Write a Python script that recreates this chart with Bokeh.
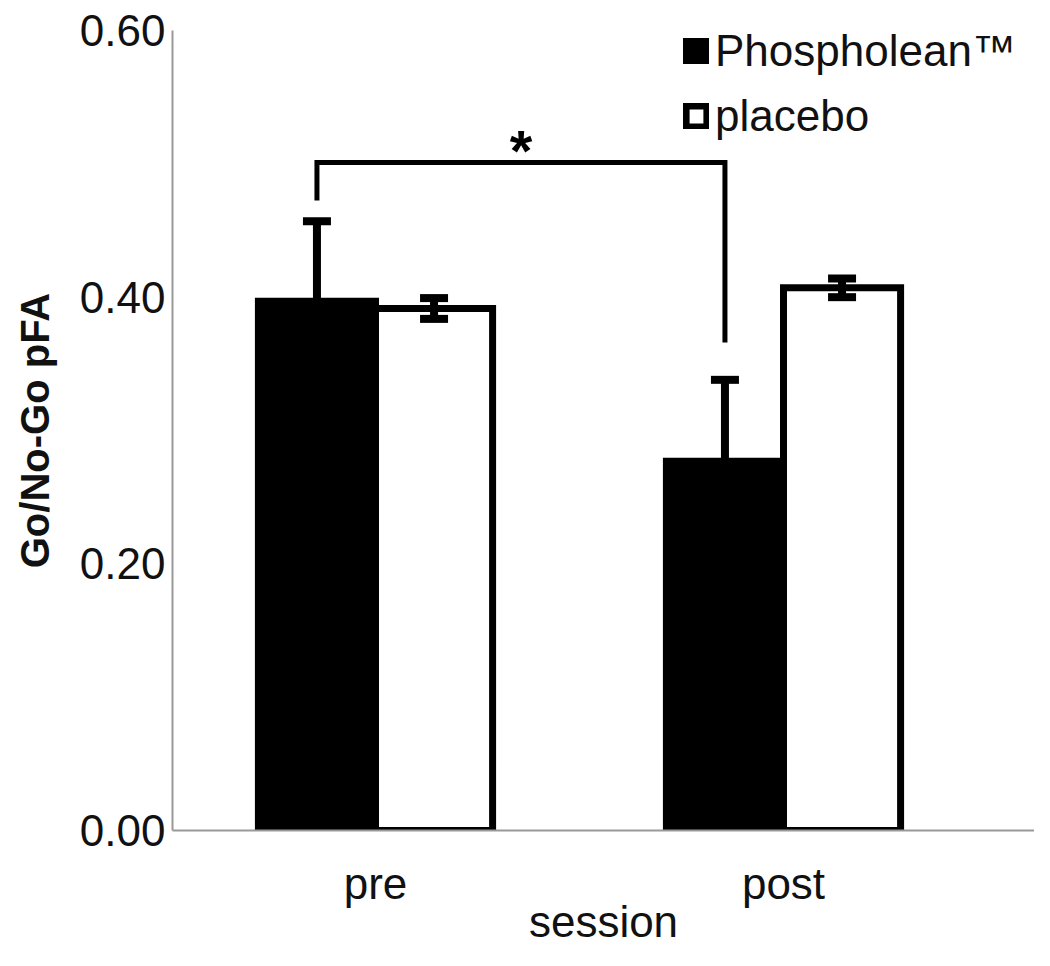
from bokeh.plotting import figure
from bokeh.models import (Range1d, FixedTicker, NumeralTickFormatter, ColumnDataSource,
                          Whisker, TeeHead, Legend, LegendItem)
from bokeh.core.properties import value
from bokeh.embed import file_html
from bokeh.resources import INLINE

# ---- data ----
sessions = ["pre", "post"]
phospholean_mean = [0.397, 0.277]
phospholean_err = [0.060, 0.061]
placebo_mean = [0.3915, 0.407]
placebo_err = [0.0078, 0.007]
series_labels = ["Phospholean\u2122", "placebo"]
y_ticks = [0.0, 0.2, 0.4, 0.6]
sig_bracket_y = 0.501
sig_leg_bottom = [0.4725, 0.366]
sig_label = "*"
x_title = "session"
y_title = "Go/No-Go pFA"

FONT = "Liberation Sans"

group_pos = [1.0, 2.0]
bar_w = 0.287
off = bar_w / 2
x_ph = [g - off for g in group_pos]
x_pl = [g + off for g in group_pos]

W, H = 1034, 950
FL, FT, FB = 172, 30, 120          # frame borders in px
px_per_unit = 408.0
x_start = 1.0 - (375 - FL) / px_per_unit
x_end = x_start + (W - FL) / px_per_unit

p = figure(width=W, height=H,
           x_range=Range1d(x_start, x_end),
           y_range=Range1d(0, 0.6),
           output_backend="svg", toolbar_location=None,
           min_border_left=FL, min_border_right=0,
           min_border_top=FT, min_border_bottom=FB)
p.xgrid.visible = False
p.ygrid.visible = False
p.outline_line_color = None
p.background_fill_color = "white"

r_ph = p.vbar(x=x_ph, top=phospholean_mean, bottom=0, width=bar_w,
              fill_color="black", line_color="black", line_width=7, line_join="miter")
r_pl = p.vbar(x=x_pl, top=placebo_mean, bottom=0, width=bar_w,
              fill_color="white", line_color="black", line_width=7, line_join="miter")

# error bars
src_ph = ColumnDataSource(dict(base=x_ph,
                               upper=[m + e for m, e in zip(phospholean_mean, phospholean_err)],
                               lower=phospholean_mean))
src_pl = ColumnDataSource(dict(base=x_pl,
                               upper=[m + e for m, e in zip(placebo_mean, placebo_err)],
                               lower=[m - e for m, e in zip(placebo_mean, placebo_err)]))
p.add_layout(Whisker(source=src_ph, base="base", upper="upper", lower="lower",
                     line_color="black", line_width=8, level="overlay",
                     upper_head=TeeHead(size=28, line_width=8, line_color="black"),
                     lower_head=None))
p.add_layout(Whisker(source=src_pl, base="base", upper="upper", lower="lower",
                     line_color="black", line_width=8, level="overlay",
                     upper_head=TeeHead(size=28, line_width=8, line_color="black"),
                     lower_head=TeeHead(size=28, line_width=8, line_color="black")))

# significance bracket
bx = [x_ph[0], x_ph[0], x_ph[1], x_ph[1]]
by = [sig_leg_bottom[0], sig_bracket_y, sig_bracket_y, sig_leg_bottom[1]]
p.line(x=bx, y=by, line_color="black", line_width=5, line_join="miter")
p.text(x=[(x_ph[0] + x_ph[1]) / 2], y=[sig_bracket_y], text=[sig_label],
       text_font=value(FONT), text_font_size="58px", text_font_style="bold",
       text_align="center", text_baseline="alphabetic", y_offset=-12, text_color="black")

# axes
p.yaxis.ticker = FixedTicker(ticks=y_ticks)
p.yaxis.formatter = NumeralTickFormatter(format="0.00")
p.yaxis.axis_label = y_title
p.yaxis.axis_label_text_font = FONT
p.yaxis.axis_label_text_font_size = "40px"
p.yaxis.axis_label_text_font_style = "bold"
p.yaxis.axis_label_text_color = "#111111"
p.yaxis.axis_label_standoff = 20
p.yaxis.major_label_standoff = 7

p.xaxis.ticker = FixedTicker(ticks=group_pos)
p.xaxis.major_label_overrides = {g: s for g, s in zip(group_pos, sessions)}
p.xaxis.major_label_standoff = 28
p.xaxis.axis_label = x_title
p.xaxis.axis_label_text_font = FONT
p.xaxis.axis_label_text_font_size = "44px"
p.xaxis.axis_label_text_font_style = "normal"
p.xaxis.axis_label_text_color = "#111111"
p.xaxis.axis_label_standoff = -14

for ax in (p.xaxis, p.yaxis):
    ax.major_label_text_font = FONT
    ax.major_label_text_font_size = "44px"
    ax.major_label_text_color = "#111111"
    ax.axis_line_color = "#999999"
    ax.axis_line_width = 2
    ax.major_tick_in = 0
    ax.major_tick_out = 0
    ax.minor_tick_in = 0
    ax.minor_tick_out = 0

legend = Legend(items=[LegendItem(label=series_labels[0], renderers=[r_ph]),
                       LegendItem(label=series_labels[1], renderers=[r_pl])],
                location=(511, 689), orientation="vertical",
                padding=0, margin=0, spacing=15,
                glyph_width=26, glyph_height=26, label_standoff=6,
                label_text_font=FONT, label_text_font_size="44px",
                label_text_color="#111111",
                background_fill_alpha=0, border_line_alpha=0)
p.add_layout(legend)

open("out.html", "w").write(file_html(p, INLINE))
